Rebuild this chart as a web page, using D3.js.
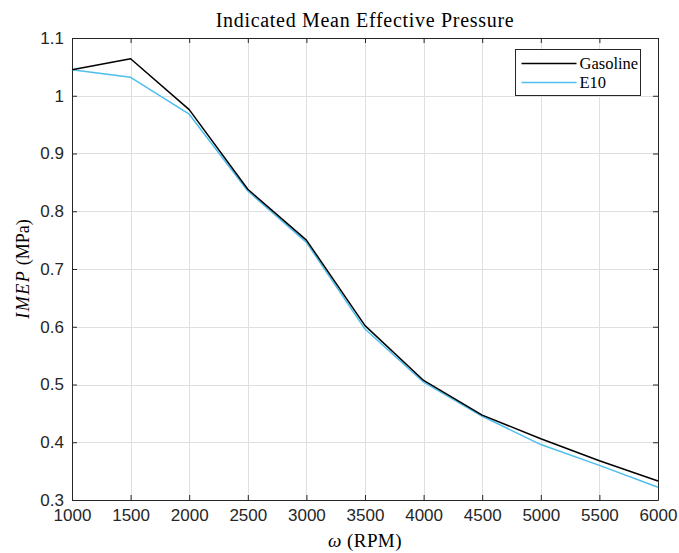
<!DOCTYPE html>
<html>
<head>
<meta charset="utf-8">
<script src="https://cdn.jsdelivr.net/npm/d3@7"></script>
<style>
  body { margin: 0; background: #fff; }
  svg { display: block; }
</style>
</head>
<body>
<div id="chart"></div>
<script>
// Data
var rpm = [1000, 1500, 2000, 2500, 3000, 3500, 4000, 4500, 5000, 5500, 6000];
var gasoline = [1.045, 1.064, 0.976, 0.838, 0.750, 0.602, 0.507, 0.447, 0.406, 0.368, 0.333];
var e10 = [1.045, 1.032, 0.968, 0.835, 0.746, 0.596, 0.504, 0.445, 0.396, 0.360, 0.322];
var xTicks = [1000, 1500, 2000, 2500, 3000, 3500, 4000, 4500, 5000, 5500, 6000];
var yTicks = [0.3, 0.4, 0.5, 0.6, 0.7, 0.8, 0.9, 1, 1.1];
var seriesNames = ["Gasoline", "E10"];
var seriesColors = ["#000000", "#4dbeee"];

var width = 679, height = 553;
var margin = { top: 38, right: 21, bottom: 53, left: 72 };
var axisColor = "#262626";
var serif = "'Liberation Serif', 'DejaVu Serif', serif";
var sans = "'Liberation Sans', Arial, sans-serif";

var x = d3.scaleLinear().domain([1000, 6000]).range([margin.left, width - margin.right]);
var y = d3.scaleLinear().domain([0.3, 1.1]).range([height - margin.bottom, margin.top]);

var svg = d3.select("#chart").append("svg")
  .attr("width", width)
  .attr("height", height)
  .attr("viewBox", [0, 0, width, height]);

// grid
var grid = svg.append("g").attr("stroke", "#dfdfdf").attr("stroke-width", 1);
grid.selectAll(".gx").data(xTicks).join("line")
  .attr("x1", d => Math.round(x(d)) + 0.5).attr("x2", d => Math.round(x(d)) + 0.5)
  .attr("y1", y(1.1)).attr("y2", y(0.3));
grid.selectAll(".gy").data(yTicks).join("line")
  .attr("y1", d => Math.round(y(d)) + 0.5).attr("y2", d => Math.round(y(d)) + 0.5)
  .attr("x1", x(1000)).attr("x2", x(6000));

// axes (ticks inward, box on)
var fmtY = d => d3.format("")(+d.toFixed(1));
function styleAxis(g) {
  g.select(".domain").attr("stroke", axisColor);
  g.selectAll(".tick line").attr("stroke", axisColor);
  g.selectAll(".tick text").attr("fill", axisColor).attr("font-family", sans).attr("font-size", 17);
}
svg.append("g")
  .attr("transform", `translate(0,${y(0.3)})`)
  .call(d3.axisBottom(x).tickValues(xTicks).tickFormat(d3.format("d")).tickSizeInner(-5).tickSizeOuter(0).tickPadding(9))
  .call(styleAxis);
svg.append("g")
  .attr("transform", `translate(0,${y(1.1)})`)
  .call(d3.axisTop(x).tickValues(xTicks).tickFormat("").tickSizeInner(-5).tickSizeOuter(0))
  .call(styleAxis);
svg.append("g")
  .attr("transform", `translate(${x(1000)},0)`)
  .call(d3.axisLeft(y).tickValues(yTicks).tickFormat(fmtY).tickSizeInner(-5).tickSizeOuter(0).tickPadding(8))
  .call(styleAxis);
svg.append("g")
  .attr("transform", `translate(${x(6000)},0)`)
  .call(d3.axisRight(y).tickValues(yTicks).tickFormat("").tickSizeInner(-5).tickSizeOuter(0))
  .call(styleAxis);

// lines
var series = [gasoline, e10];
var line = d3.line().x((d, i) => x(rpm[i])).y(d => y(d));
// draw E10 first so gasoline sits on top where they overlap
[1, 0].forEach(function (k) {
  svg.append("path")
    .datum(series[k])
    .attr("fill", "none")
    .attr("stroke", seriesColors[k])
    .attr("stroke-width", 1.5)
    .attr("stroke-linejoin", "round")
    .attr("d", line);
});

// title and labels (latex-ish serif, a bit of letter spacing to mimic CM width)
svg.append("text")
  .attr("x", (x(1000) + x(6000)) / 2).attr("y", 27)
  .attr("text-anchor", "middle")
  .attr("font-family", serif).attr("font-size", 20).attr("letter-spacing", 0.7).attr("fill", "#000")
  .text("Indicated Mean Effective Pressure");

var xl = svg.append("text")
  .attr("x", (x(1000) + x(6000)) / 2).attr("y", 547)
  .attr("text-anchor", "middle")
  .attr("font-family", serif).attr("font-size", 19).attr("letter-spacing", 0.4).attr("fill", "#000");
xl.append("tspan").attr("font-style", "italic").text("ω");
xl.append("tspan").text(" (RPM)");

var yl = svg.append("text")
  .attr("transform", `translate(29,${(y(0.3) + y(1.1)) / 2}) rotate(-90)`)
  .attr("text-anchor", "middle")
  .attr("font-family", serif).attr("font-size", 18).attr("fill", "#000");
yl.append("tspan").attr("font-style", "italic").attr("letter-spacing", 1.5).text("IMEP");
yl.append("tspan").text(" (MPa)");

// legend
var lg = svg.append("g").attr("transform", "translate(515.5,49.5)");
lg.append("rect").attr("width", 125).attr("height", 46)
  .attr("fill", "#fff").attr("stroke", axisColor).attr("stroke-width", 1);
seriesNames.forEach(function (name, i) {
  var yy = 14 + i * 19;
  lg.append("line").attr("x1", 6).attr("x2", 61).attr("y1", yy).attr("y2", yy)
    .attr("stroke", seriesColors[i]).attr("stroke-width", 1.5);
  lg.append("text").attr("x", 64).attr("y", yy + 5)
    .attr("font-family", serif).attr("font-size", 16.5).attr("fill", "#000")
    .text(name);
});
</script>
</body>
</html>
